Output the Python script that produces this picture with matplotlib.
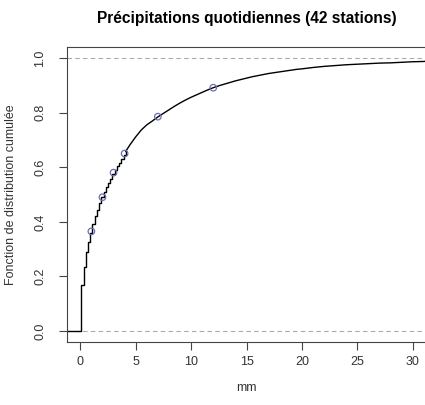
import numpy as np
import matplotlib
matplotlib.use("Agg")
import matplotlib.pyplot as plt

# ECDF of daily precipitation
# low part: visible steps of the empirical CDF
mm_steps = [0.1, 0.3, 0.5, 0.7, 0.9, 1.1, 1.3, 1.5, 1.7, 1.9, 2.1, 2.3, 2.5, 2.7, 2.9,
            3.1, 3.3, 3.5, 3.7, 3.9]
cdf_steps = [0.17, 0.236, 0.288, 0.325, 0.36, 0.393, 0.42, 0.445, 0.468, 0.49, 0.508,
             0.526, 0.543, 0.558, 0.575, 0.589, 0.603, 0.617, 0.631, 0.645]
# upper part: steps too small to see, read as a curve
mm_tail = [4.1, 4.5, 5.0, 5.5, 6.0, 6.5, 7.0, 7.5, 8.0, 8.5, 9.0, 9.5, 10.0, 10.5, 11.0,
           11.5, 12.0, 12.5, 13.0, 13.5, 14.0, 14.5, 15.0, 15.5, 16.0, 16.5, 17.0, 17.5,
           18.0, 18.5, 19.0, 19.5, 20, 21, 22, 23, 24, 25, 26, 27, 28, 29, 30, 31, 31.2]
cdf_tail = [0.658, 0.683, 0.711, 0.736, 0.755, 0.769, 0.784, 0.797, 0.810, 0.823, 0.835,
            0.846, 0.856, 0.865, 0.874, 0.883, 0.891, 0.898, 0.904, 0.910, 0.916, 0.921,
            0.926, 0.931, 0.935, 0.939, 0.943, 0.946, 0.949, 0.952, 0.955, 0.958, 0.960,
            0.965, 0.969, 0.972, 0.975, 0.977, 0.979, 0.981, 0.982, 0.984, 0.986, 0.987,
            0.988]

# marked points
pts_mm = [1, 2, 3, 4, 7, 12]
pts_cdf = [0.365, 0.49, 0.58, 0.65, 0.785, 0.891]

xticks = [0, 5, 10, 15, 20, 25, 30]
yticks = [0.0, 0.2, 0.4, 0.6, 0.8, 1.0]

plt.rcParams['font.family'] = ['Liberation Sans', 'DejaVu Sans']
plt.rcParams['font.size'] = 9

fig = plt.figure(figsize=(4.25, 4.05), dpi=100)
W, H = 425.0, 405.0
ax = fig.add_axes([67 / W, 1 - 342 / H, (426 - 67) / W, (342 - 47) / H])

xlo, xhi = -1.2, 31.2
ax.set_xlim(xlo, xhi)
ax.set_ylim(-0.04, 1.04)

ax.axhline(0, color='#aaaaaa', lw=0.8, ls=(0, (4, 3)))
ax.axhline(1, color='#aaaaaa', lw=0.8, ls=(0, (4, 3)))

# steps join the smooth tail at its first point
xs = np.r_[xlo, mm_steps, mm_tail[0]]
ys = np.r_[0, cdf_steps, cdf_tail[0]]
ax.plot(xs, ys, drawstyle='steps-post', color='black', lw=1.0)
ax.plot(mm_tail, cdf_tail, color='black', lw=1.0)
ax.scatter(pts_mm, pts_cdf, s=22, facecolors='none', edgecolors='#6b6fb0', lw=0.9, zorder=3)

ax.set_xticks(xticks)
ax.set_yticks(yticks)
ax.set_yticklabels(['0.0', '0.2', '0.4', '0.6', '0.8', '1.0'], rotation=90, va='center')
ax.tick_params(direction='out', length=6, width=0.8, colors='#444444', labelcolor='#333333')
ax.tick_params(axis='x', pad=4)
ax.tick_params(axis='y', pad=9)
for s in ax.spines.values():
    s.set_color('#444444')
    s.set_linewidth(0.8)

ax.set_xlabel('mm', color='#333333', labelpad=10)
ax.set_ylabel('Fonction de distribution cumulée', color='#333333', labelpad=12)

fig.text(247 / W, 1 - 18 / H, 'Précipitations quotidiennes (42 stations)',
         ha='center', va='center', fontsize=11.2, fontweight='bold')

fig.savefig('out.png', dpi=100)
plt.close(fig)
